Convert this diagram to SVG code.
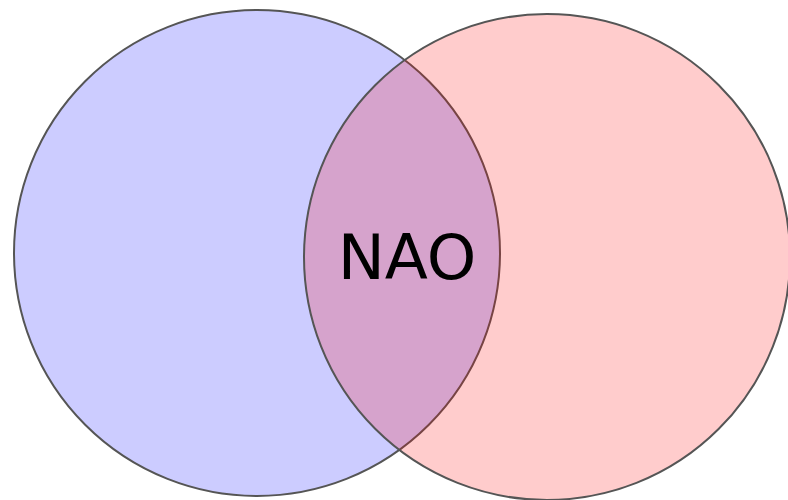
<svg xmlns="http://www.w3.org/2000/svg" width="788" height="500" viewBox="0 0 788 500">
  <style>
    .set { stroke: #555555; stroke-width: 2; }
    .label { font-family: "DejaVu Sans", "Liberation Sans", sans-serif; font-size: 63px; fill: #000000; }
  </style>
  <rect width="788" height="500" fill="#ffffff"/>
  <g id="set-blue">
    <circle class="set" cx="257" cy="253" r="243" fill="rgb(0,0,255)" fill-opacity="0.2"/>
  </g>
  <g id="set-red">
    <circle class="set" cx="547" cy="257" r="243" fill="rgb(255,0,0)" fill-opacity="0.2"/>
  </g>
  <g id="intersection">
    <text class="label" x="407" y="279" text-anchor="middle">NAO</text>
  </g>
</svg>
